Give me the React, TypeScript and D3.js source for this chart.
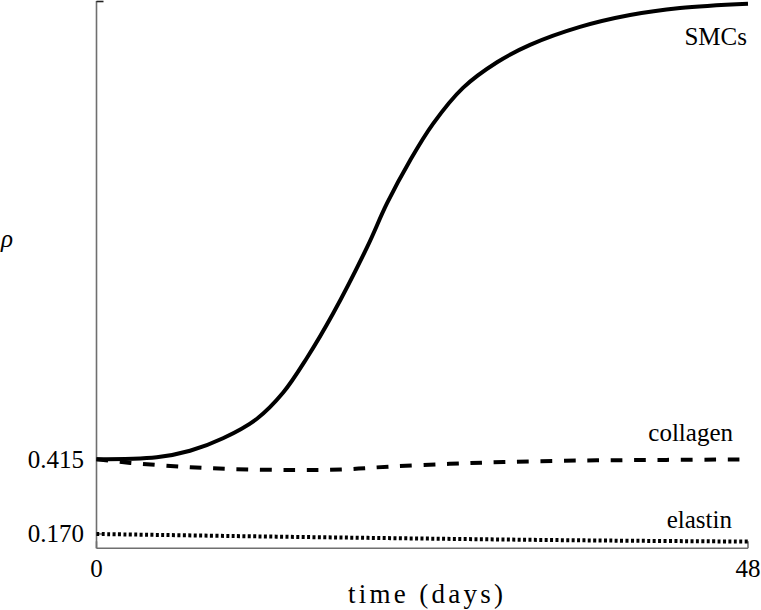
import React from "react";
import * as d3 from "d3";

const timeTicks = [0, 48];
const rhoTicks = [0.415, 0.17];
const tickLabelsX = ["0", "48"];
const tickLabelsY = ["0.415", "0.170"];

const smcT = [0, 4.44, 6.89, 9.32, 11.82, 13.74, 15.51, 17.43, 19.93, 21.4, 23.1, 24.79, 27.0, 29.51, 31.94, 35.62, 39.31, 42.99, 48];
const smcRho = [0.415, 0.4216, 0.443, 0.484, 0.548, 0.633, 0.748, 0.893, 1.11, 1.254, 1.395, 1.515, 1.633, 1.717, 1.774, 1.833, 1.872, 1.895, 1.909];

const colT = [0, 2.5, 6.9, 10, 14.3, 18, 21.6, 26, 30, 36, 42, 48];
const colRho = [0.415, 0.403, 0.389, 0.383, 0.38, 0.3815, 0.391, 0.4, 0.406, 0.411, 0.413, 0.4143];

const elaT = [0, 12, 24, 36, 48];
const elaRho = [0.17, 0.162, 0.155, 0.149, 0.145];

const seriesNames = ["SMCs", "collagen", "elastin"];
const xTitle = "time (days)";
const yTitle = "ρ";

export default function App() {
  const W = 761, H = 610;
  const x = d3.scaleLinear().domain([0, 48]).range([96.5, 748]);
  const y = d3.scaleLinear().domain([0.123, 1.918]).range([548.3, 1]);
  const line = d3
    .line<[number, number]>()
    .x((d) => x(d[0]))
    .y((d) => y(d[1]))
    .curve(d3.curveCatmullRom.alpha(0.5));
  const zip = (a: number[], b: number[]) => a.map((v, i) => [v, b[i]] as [number, number]);
  const font = "Liberation Serif";
  const axisColor = "#6f6f6f";
  const [y0, y1] = y.range();
  const [x0, x1] = x.range();
  return (
    <svg width={W} height={H} style={{ position: "absolute", left: 0, top: 0, background: "#fff" }}>
      <rect width={W} height={H} fill="#fff" />
      <line x1={x0} x2={x0} y1={y1} y2={y0} stroke={axisColor} strokeWidth={1.6} />
      <line x1={x0} x2={x1} y1={y0} y2={y0} stroke={axisColor} strokeWidth={1.6} />
      <line x1={x0} x2={x0 + 7} y1={y1 + 0.5} y2={y1 + 0.5} stroke="#222" strokeWidth={1.6} />
      {timeTicks.map((t, i) => (
        <line key={"xt" + i} x1={x(t)} x2={x(t)} y1={y0} y2={y0 - 7} stroke={axisColor} strokeWidth={1.6} />
      ))}
      {rhoTicks.map((r, i) => (
        <line key={"yt" + i} x1={x0} x2={x0 + 7} y1={y(r)} y2={y(r)} stroke={axisColor} strokeWidth={1.6} />
      ))}
      <path d={line(zip(elaT, elaRho)) || ""} fill="none" stroke="#000" strokeWidth={4} strokeDasharray="3,2.4" />
      <path d={line(zip(colT, colRho)) || ""} fill="none" stroke="#000" strokeWidth={4} strokeDasharray="11.7,11.7" />
      <path d={line(zip(smcT, smcRho)) || ""} fill="none" stroke="#000" strokeWidth={4} />
      {timeTicks.map((t, i) => (
        <text key={"xl" + i} x={x(t)} y={577} textAnchor="middle" fontFamily={font} fontSize={25} fill="#000">
          {tickLabelsX[i]}
        </text>
      ))}
      {rhoTicks.map((r, i) => (
        <text key={"yl" + i} x={84} y={y(r) + 8.5} textAnchor="end" fontFamily={font} fontSize={25} fill="#000">
          {tickLabelsY[i]}
        </text>
      ))}
      <text x={747} y={45} textAnchor="end" fontFamily={font} fontSize={25}>{seriesNames[0]}</text>
      <text x={733} y={441} textAnchor="end" fontFamily={font} fontSize={25}>{seriesNames[1]}</text>
      <text x={732} y={528} textAnchor="end" fontFamily={font} fontSize={25}>{seriesNames[2]}</text>
      <text x={348} y={603} fontFamily={font} fontSize={27} textLength={155} lengthAdjust="spacing">{xTitle}</text>
      <text x={1} y={247} fontFamily={font} fontSize={25} fontStyle="italic">{yTitle}</text>
    </svg>
  );
}
